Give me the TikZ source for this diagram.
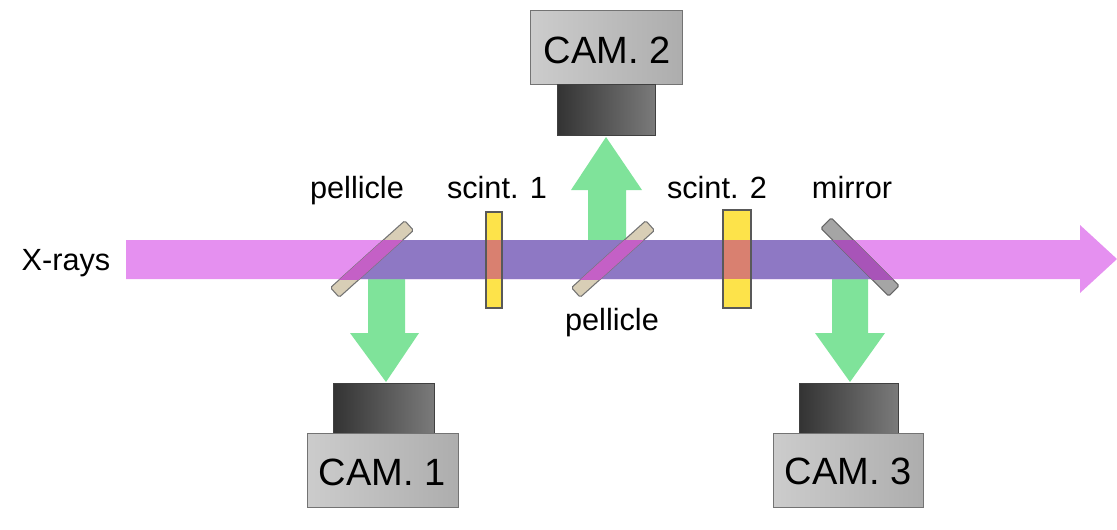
\documentclass[tikz,border=0pt]{standalone}
\usepackage{fontspec}
\setmainfont{Liberation Sans}
\definecolor{xpink}{RGB}{229,144,240}
\definecolor{xdark}{RGB}{142,120,196}
\definecolor{lgreen}{RGB}{127,227,154}
\definecolor{syellow}{RGB}{253,227,74}
\definecolor{ssalmon}{RGB}{217,128,112}
\definecolor{pbeige}{RGB}{216,206,182}
\definecolor{pmag}{RGB}{196,96,198}
\definecolor{mgray}{RGB}{165,165,165}
\definecolor{mmag}{RGB}{168,84,184}
\tikzset{
  lbl/.style={font=\fontsize{23}{26}\selectfont, anchor=base, inner sep=0pt},
  camtxt/.style={font=\fontsize{28.5}{32}\selectfont, anchor=base, inner sep=0pt},
  pell/.style={rectangle, draw=black!55, line width=0.8pt, minimum width=75pt,
    minimum height=9.75pt, inner sep=0pt, rounded corners=1.2pt},
  scintbox/.style={draw=black!65, line width=0.8pt},
  greenarrow/.style={fill=lgreen, draw=none},
  cambody/.style={draw=black!55, line width=0.7pt, left color=black!20, right color=black!32},
  camlens/.style={draw=black!75, line width=0.7pt, left color=black!80, right color=black!52},
}
\begin{document}
\begin{tikzpicture}[x=0.75pt,y=-0.75pt]
\useasboundingbox (0,0) rectangle (1117,529);

% green light paths towards the cameras
\fill[greenarrow] (368,262) -- (405,262) -- (405,333) -- (419,333) -- (386,382)
  -- (350,333) -- (368,333) -- cycle;
\fill[greenarrow] (588,262) -- (626,262) -- (626,190) -- (642,190) -- (606,137)
  -- (571,190) -- (588,190) -- cycle;
\fill[greenarrow] (832,262) -- (868,262) -- (868,333) -- (885,333) -- (850,382)
  -- (815,333) -- (832,333) -- cycle;

% X-ray beam
\fill[xpink] (126,240) -- (1080,240) -- (1080,225) -- (1117,259) -- (1080,293)
  -- (1080,279) -- (126,279) -- cycle;
\fill[xdark] (393,240) -- (843,240) -- (882,279) -- (350,279) -- cycle;

% scintillators
\draw[scintbox, fill=syellow] (486,212) rectangle (502,308);
\draw[scintbox, fill=syellow] (723,210) rectangle (751,308);
\fill[ssalmon] (486.6,240) rectangle (501.4,279);
\fill[ssalmon] (723.6,240) rectangle (750.4,279);

% pellicles and mirror
\node[pell, fill=pbeige, rotate=42] (p1) at (372,259) {};
\node[pell, fill=pbeige, rotate=42] (p2) at (613,259) {};
\node[pell, fill=mgray, draw=black!60, minimum width=72pt, minimum height=11pt, rotate=-45] (m) at (860,257) {};
\begin{scope}
  \clip (126,240) rectangle (1080,279);
  \node[pell, fill=pmag, draw=none, rotate=42] (p1b) at (372,259) {};
  \node[pell, fill=pmag, draw=none, rotate=42] (p2b) at (613,259) {};
  \node[pell, fill=mmag, draw=none, minimum width=72pt, minimum height=11pt, rotate=-45] (mb) at (860,257) {};
\end{scope}

% cameras
\draw[cambody] (530,10) rectangle (682,84);
\draw[camlens] (557,84) rectangle (655,135);
\node[camtxt] (c2) at (607,63) {CAM. 2};

\draw[camlens] (333,383) rectangle (434,433);
\draw[cambody] (307,433) rectangle (458,507);
\node[camtxt] (c1) at (382,485) {CAM. 1};

\draw[camlens] (799,383) rectangle (898,433);
\draw[cambody] (773,433) rectangle (923,507);
\node[camtxt] (c3) at (848,484) {CAM. 3};

% labels
\node[lbl] (lx) at (66,270) {X-rays};
\node[lbl] (l1) at (357,198) {pellicle};
\node[lbl] (l2) at (497,198) {scint. 1};
\node[lbl] (l3) at (612,330) {pellicle};
\node[lbl] (l4) at (717,198) {scint. 2};
\node[lbl] (l5) at (852,198) {mirror};
\end{tikzpicture}
\end{document}
